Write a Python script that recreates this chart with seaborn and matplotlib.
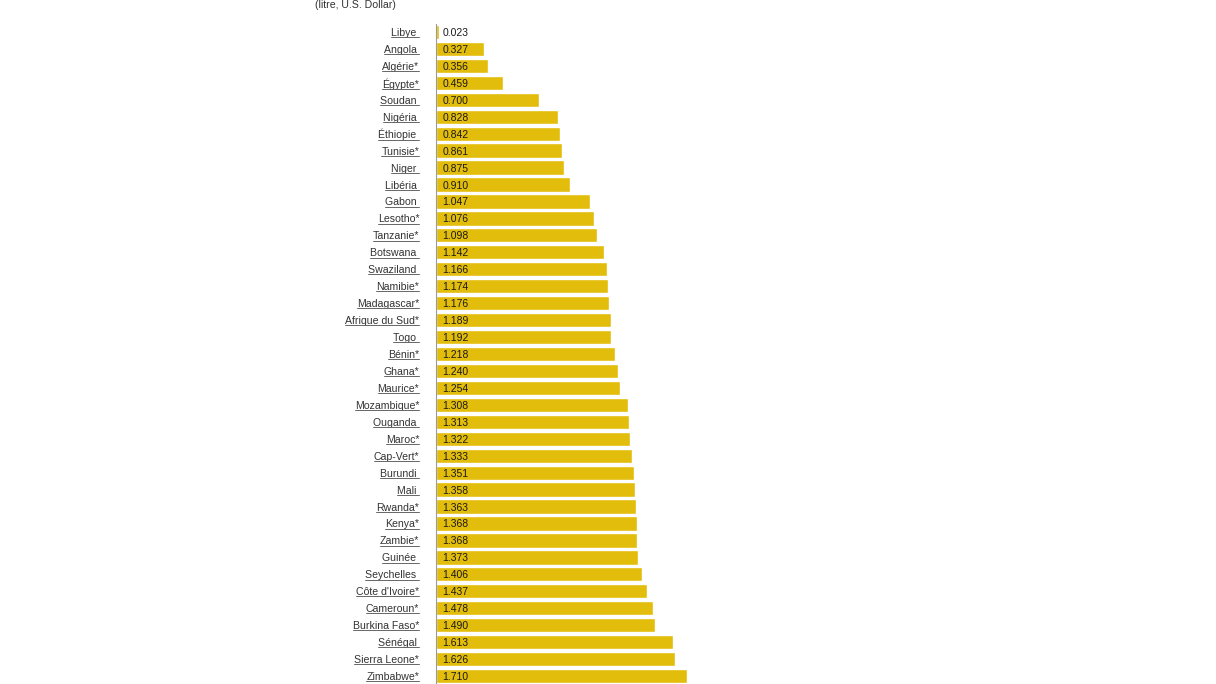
import matplotlib
matplotlib.use("Agg")
import matplotlib.pyplot as plt
import seaborn as sns
import pandas as pd
from matplotlib.lines import Line2D

countries = ["Libye ", "Angola ", "Algérie*", "Égypte*", "Soudan ", "Nigéria ", "Éthiopie ",
             "Tunisie*", "Niger ", "Libéria ", "Gabon ", "Lesotho*", "Tanzanie*", "Botswana ",
             "Swaziland ", "Namibie*", "Madagascar*", "Afrique du Sud*", "Togo ", "Bénin*",
             "Ghana*", "Maurice*", "Mozambique*", "Ouganda ", "Maroc*", "Cap-Vert*", "Burundi ",
             "Mali ", "Rwanda*", "Kenya*", "Zambie*", "Guinée ", "Seychelles ", "Côte d'Ivoire*",
             "Cameroun*", "Burkina Faso*", "Sénégal ", "Sierra Leone*", "Zimbabwe*"]
prices = [0.023, 0.327, 0.356, 0.459, 0.700, 0.828, 0.842, 0.861, 0.875, 0.910,
          1.047, 1.076, 1.098, 1.142, 1.166, 1.174, 1.176, 1.189, 1.192, 1.218,
          1.240, 1.254, 1.308, 1.313, 1.322, 1.333, 1.351, 1.358, 1.363, 1.368,
          1.368, 1.373, 1.406, 1.437, 1.478, 1.490, 1.613, 1.626, 1.710]
title = "(litre, U.S. Dollar)"

df = pd.DataFrame({"country": countries, "price": prices})

sns.set_style("white")
plt.rcParams["font.family"] = ["Liberation Sans", "DejaVu Sans"]

W, H = 1216, 684
fig = plt.figure(figsize=(W / 100, H / 100), dpi=100)
left_px, px_per_unit, xmax = 436, 146.8, 4.0
top_px, bottom_px = 23.5, 684.5
ax = fig.add_axes([left_px / W, 1 - bottom_px / H, xmax * px_per_unit / W, (bottom_px - top_px) / H])

sns.barplot(data=df, y="country", x="price", orient="h", color="#E3BD0B",
            saturation=1, width=0.84, ax=ax)
ax.set_xlim(0, xmax)
ax.set_ylim(len(countries) - 0.5, -0.5)
ax.set_xlabel("")
ax.set_ylabel("")
ax.set_xticks([])
for s in ["top", "right", "bottom"]:
    ax.spines[s].set_visible(False)
ax.spines["left"].set_color("#9a9a9a")
ax.spines["left"].set_linewidth(0.8)
ax.tick_params(axis="y", length=0, pad=12, labelsize=7.6, labelcolor="#333333")

for i, v in enumerate(prices):
    ax.annotate(f"{v:.3f}", xy=(0, i), xytext=(4.5, 0), textcoords="offset points",
                ha="left", va="center_baseline", fontsize=7.5, color="#1a1a1a")

fig.text(315 / W, 1 - 5 / H, title, ha="left", va="center", fontsize=7.6, color="#333333")

fig.canvas.draw()
renderer = fig.canvas.get_renderer()
for lab in ax.get_yticklabels():
    bb = lab.get_window_extent(renderer)
    y = bb.y0 + 0.8
    fig.add_artist(Line2D([bb.x0 / W, bb.x1 / W], [y / H, y / H], color="#666666", lw=0.7,
                          transform=fig.transFigure))

fig.savefig("out.png", dpi=100, facecolor="white")
